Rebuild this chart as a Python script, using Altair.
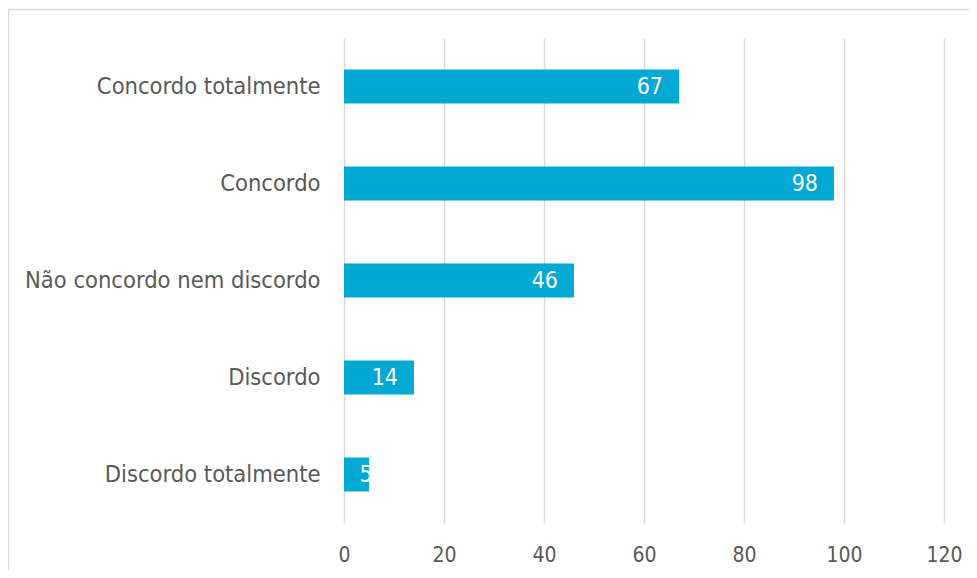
import altair as alt
import pandas as pd

categories = ["Concordo totalmente", "Concordo", "Não concordo nem discordo", "Discordo", "Discordo totalmente"]
values = [67, 98, 46, 14, 5]
x_ticks = [0, 20, 40, 60, 80, 100, 120]

FONT = "DejaVu Sans Condensed, DejaVu Sans"
BAR = "#01A9D4"
GRID = "#D9D9D9"
TXT = "#595959"

df = pd.DataFrame({"cat": categories, "val": values})

x_axis = alt.Axis(values=x_ticks, title=None, grid=True, gridColor=GRID, gridWidth=1.5,
                  ticks=False, domain=False, labelFont=FONT, labelFontSize=21,
                  labelFlush=False, labelColor=TXT, labelPadding=21)
y_axis = alt.Axis(title=None, ticks=False, domain=False, grid=False, labelFont=FONT,
                  labelFontSize=23.5, labelColor=TXT, labelPadding=24, labelLimit=600)
x_scale = alt.Scale(domain=[0, 120], nice=False)
y_scale = alt.Scale(paddingInner=0.65, paddingOuter=0.325)

bars = alt.Chart(df).mark_bar(color=BAR).encode(
    x=alt.X("val:Q", scale=x_scale, axis=x_axis),
    y=alt.Y("cat:N", sort=categories, scale=y_scale, axis=y_axis))

enc = dict(
    x=alt.X("val:Q", scale=x_scale, axis=x_axis),
    y=alt.Y("cat:N", sort=categories, scale=y_scale, axis=y_axis),
    text="val:Q")
labels = alt.Chart(df).mark_text(align="right", baseline="middle", dx=-16, color="white",
                                 font=FONT, fontSize=23).encode(**enc).transform_filter(
    alt.datum.val >= 10)
small_labels = alt.Chart(df).mark_text(align="center", baseline="middle", dx=-3, color="white",
                                       font=FONT, fontSize=23).encode(**enc).transform_filter(
    alt.datum.val < 10)

border = alt.Chart(pd.DataFrame({"a": [0]})).mark_rect(
    fill="transparent", stroke=GRID, strokeWidth=1.5).encode(
    x=alt.value(-335.5), x2=alt.value(800), y=alt.value(-28.5), y2=alt.value(700))

chart = alt.layer(border, bars, labels, small_labels).properties(
    width=600, height=485,
    background="white",
    autosize=alt.AutoSizeParams(type="none"),
    padding={"left": 336, "top": 30, "right": 25, "bottom": 47},
).configure_view(strokeWidth=0, stroke="transparent").configure_axis(
    domain=False, ticks=False)

chart.save("out.html", embed_options={"renderer": "svg", "actions": False})
